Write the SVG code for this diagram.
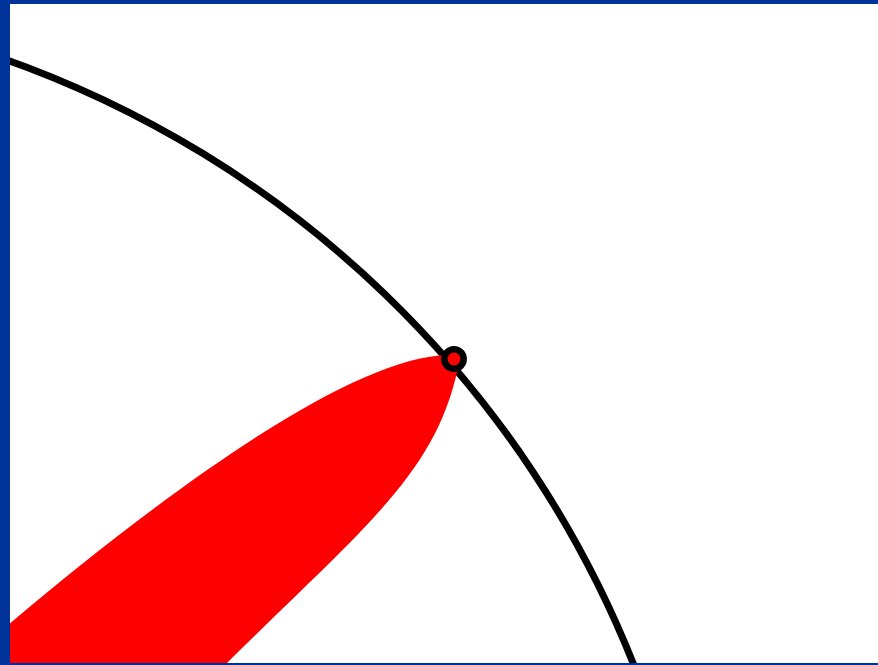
<svg xmlns="http://www.w3.org/2000/svg" width="878" height="665" viewBox="0 0 878 665">
  <style>
    .frame { fill: #003399; }
    .orbit { fill: none; stroke: #000; stroke-width: 7; }
    .lobe { fill: #ff0000; stroke: none; }
    .node { fill: #ff0000; stroke: #000; stroke-width: 6.5; }
  </style>
  <rect x="0" y="0" width="878" height="665" fill="#ffffff"/>
  <g id="orbit">
    <path class="orbit" d="M 0,57.5 A 1056.4 1056.4 0 0 1 635.8,670"/>
  </g>
  <g id="lobe">
    <path class="lobe" d="M 458,368 C 434,478 362,528 212,678 L -5,678 L -5,636 C 195,466 360,357 448,355 C 455,355 460,360 458,368 Z"/>
  </g>
  <g id="tip">
    <circle class="node" cx="454" cy="359" r="9.7"/>
  </g>
  <g id="frame">
    <rect class="frame" x="0" y="0" width="878" height="4"/>
    <rect class="frame" x="0" y="0" width="10" height="665"/>
    <rect class="frame" x="0" y="663" width="878" height="2"/>
  </g>
</svg>
